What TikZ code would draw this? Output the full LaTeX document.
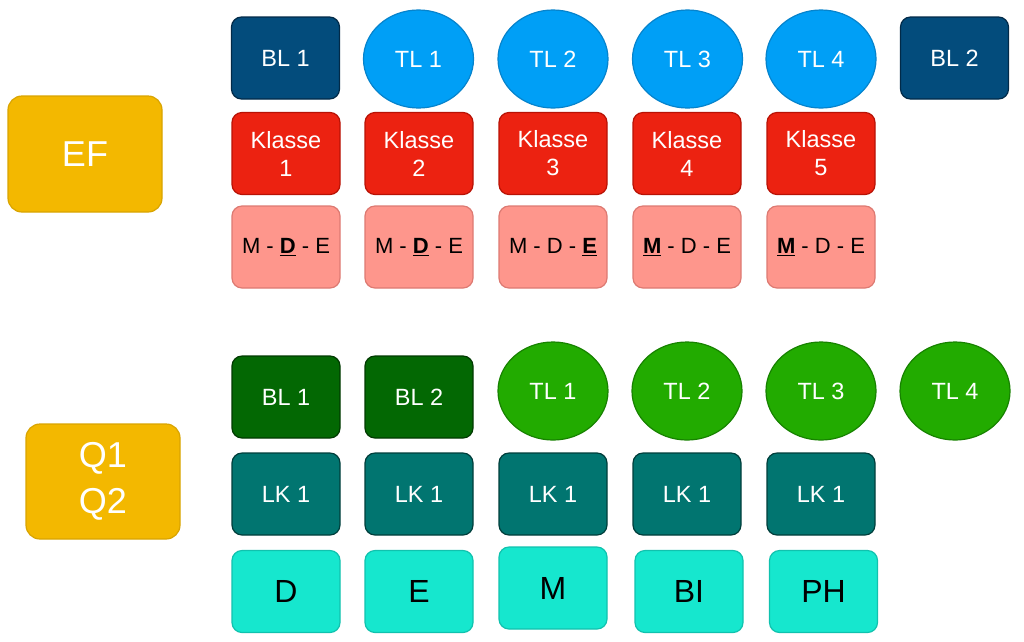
\documentclass[tikz,border=0pt]{standalone}
\usepackage{fontspec}
\setmainfont{Liberation Sans}
\usetikzlibrary{shapes.geometric}
\definecolor{cyel}{HTML}{F3B800}
\definecolor{cyelb}{HTML}{D9A400}
\definecolor{cbl}{HTML}{034C7C}
\definecolor{cblb}{HTML}{022A48}
\definecolor{ctl}{HTML}{009FF6}
\definecolor{ctlb}{HTML}{0683CC}
\definecolor{ckl}{HTML}{EC2211}
\definecolor{cklb}{HTML}{B81205}
\definecolor{cmde}{HTML}{FE968C}
\definecolor{cmdeb}{HTML}{DD7A72}
\definecolor{cgbl}{HTML}{036803}
\definecolor{cgblb}{HTML}{013A01}
\definecolor{cgtl}{HTML}{22AB00}
\definecolor{cgtlb}{HTML}{178200}
\definecolor{clk}{HTML}{017570}
\definecolor{clkb}{HTML}{003E3B}
\definecolor{ccy}{HTML}{16E7CE}
\definecolor{ccyb}{HTML}{10C2AE}
\tikzset{
  rbox/.style={rectangle, rounded corners=10pt, minimum width=108pt, minimum height=82pt,
    line width=1.2pt, align=center, inner sep=0pt},
  ebox/.style={ellipse, minimum width=110pt, minimum height=98pt, line width=1.2pt,
    align=center, inner sep=0pt},
  stage/.style={rectangle, rounded corners=14pt, minimum width=154pt, minimum height=115pt,
    fill=cyel, draw=cyelb, line width=1.2pt, text=white, align=center, inner sep=0pt,
    font=\fontsize{36}{46}\selectfont},
  wtxt/.style={text=white, font=\fontsize{23.5}{28}\selectfont},
  blbox/.style={rbox, wtxt, fill=cbl, draw=cblb},
  tlbox/.style={ebox, wtxt, fill=ctl, draw=ctlb},
  klbox/.style={rbox, wtxt, fill=ckl, draw=cklb},
  mdebox/.style={rbox, fill=cmde, draw=cmdeb, text=black, font=\fontsize{22}{26}\selectfont},
  gblbox/.style={rbox, wtxt, fill=cgbl, draw=cgblb},
  gtlbox/.style={ebox, wtxt, fill=cgtl, draw=cgtlb},
  lkbox/.style={rbox, wtxt, fill=clk, draw=clkb},
  fachbox/.style={rbox, fill=ccy, draw=ccyb, text=black, font=\fontsize{32}{36}\selectfont},
}
\newcommand{\ub}[1]{\underline{\textbf{#1}}}
\begin{document}
\begin{tikzpicture}[x=1pt,y=-1pt]
\useasboundingbox (0,0) rectangle (1024,641);
% EF
\node[stage, minimum height=116pt] (ef) at (85,154) {EF};
\node[blbox] (bla) at (285.5,58) {BL 1};
\node[tlbox] (tla) at (418.5,59) {TL 1};
\node[tlbox] (tlb) at (553,59) {TL 2};
\node[tlbox] (tlc) at (687.5,59) {TL 3};
\node[tlbox] (tld) at (821,59) {TL 4};
\node[blbox] (blb) at (954.5,58) {BL 2};
\node[klbox] (ka) at (286,153.5) {Klasse\\1};
\node[klbox] (kb) at (419,153.5) {Klasse\\2};
\node[klbox] (kc) at (553,153.5) {Klasse\\3};
\node[klbox] (kd) at (687,153.5) {Klasse\\4};
\node[klbox] (ke) at (821,153.5) {Klasse\\5};
\node[mdebox] (ma) at (286,247) {M - \ub{D} - E};
\node[mdebox] (mb) at (419,247) {M - \ub{D} - E};
\node[mdebox] (mc) at (553,247) {M - D - \ub{E}};
\node[mdebox] (md) at (687,247) {\ub{M} - D - E};
\node[mdebox] (me) at (821,247) {\ub{M} - D - E};
% Q1 Q2
\node[stage] (q) at (103,481.5) {Q1\\Q2};
\node[gblbox] (gba) at (286,397) {BL 1};
\node[gblbox] (gbb) at (419,397) {BL 2};
\node[gtlbox] (gta) at (553,391) {TL 1};
\node[gtlbox] (gtb) at (687,391) {TL 2};
\node[gtlbox] (gtc) at (821,391) {TL 3};
\node[gtlbox] (gtd) at (955,391) {TL 4};
\node[lkbox] (la) at (286,494) {LK 1};
\node[lkbox] (lb) at (419,494) {LK 1};
\node[lkbox] (lc) at (553,494) {LK 1};
\node[lkbox] (ld) at (687,494) {LK 1};
\node[lkbox] (le) at (821,494) {LK 1};
\node[fachbox] (fa) at (286,591.5) {D};
\node[fachbox] (fb) at (419,591.5) {E};
\node[fachbox] (fc) at (553,588) {M};
\node[fachbox] (fd) at (689,591.5) {BI};
\node[fachbox] (fe) at (823.5,591.5) {PH};
\end{tikzpicture}
\end{document}
